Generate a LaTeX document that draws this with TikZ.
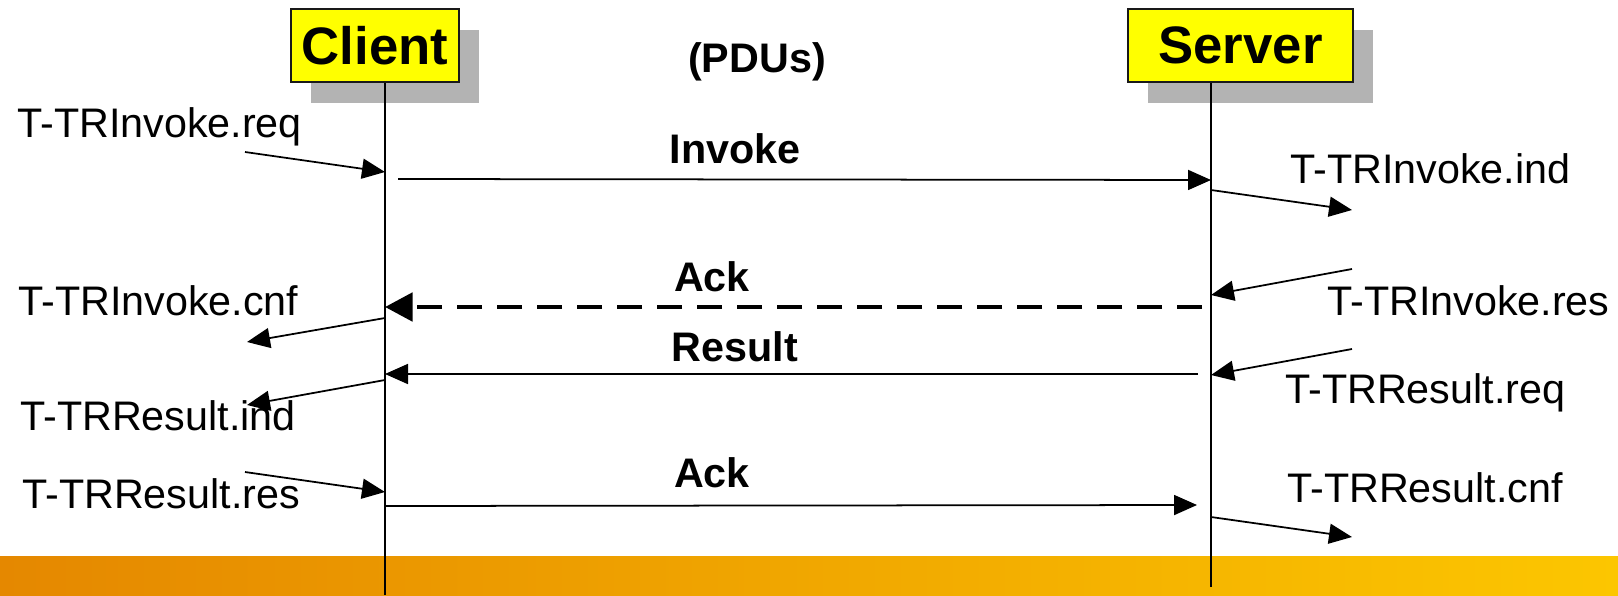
\documentclass[tikz,border=0pt]{standalone}
\usepackage{fontspec}
\setmainfont{Liberation Sans}
\usetikzlibrary{arrows.meta,shadows}

\providecommand*{\xClient}{}
\providecommand*{\xServer}{}
\providecommand*{\yBottom}{}
\renewcommand*{\xClient}{385}
\renewcommand*{\xServer}{1211}
\renewcommand*{\yBottom}{595}

\definecolor{boxyellow}{RGB}{255,255,0}
\definecolor{shadowgray}{RGB}{179,179,179}
\definecolor{bandleft}{RGB}{229,136,0}
\definecolor{bandright}{RGB}{252,198,0}

\tikzset{
  entity/.style={draw=black!90,line width=1pt,fill=boxyellow,inner sep=0pt,
    minimum height=1.46cm,font=\fontsize{30}{36}\selectfont\bfseries,
    drop shadow={shadow xshift=0.4cm,shadow yshift=-0.42cm,fill=shadowgray,opacity=1}},
  primitive/.style={inner sep=0pt,anchor=base west,font=\fontsize{23.5}{28}\selectfont},
  pdu/.style={inner sep=0pt,anchor=base,font=\fontsize{23.5}{28}\selectfont\bfseries},
  lifeline/.style={line width=1pt},
  msg/.style={line width=1pt,-{Triangle[length=0.46cm,width=0.4cm]}},
  ackmsg/.style={line width=2.8pt,dash pattern=on 0.5cm off 0.3cm,
    -{Triangle[length=0.55cm,width=0.56cm]}}
}

\begin{document}
\begin{tikzpicture}[x=0.02cm,y=-0.02cm]
  \useasboundingbox (0,0) rectangle (1618,\yBottom);
  \shade [left color=bandleft,right color=bandright] (0,556) rectangle (1618,\yBottom);

  \node (client) [entity,minimum width=3.36cm] at (375,45.5) {Client};
  \node (server) [entity,minimum width=4.5cm] at (1240.5,45.5) {Server};
  \coordinate (clientEnd) at (\xClient,\yBottom);
  \coordinate (serverEnd) at (\xServer,587);
  \draw [lifeline] (client.south -| clientEnd) -- (clientEnd);
  \draw [lifeline] (server.south -| serverEnd) -- (serverEnd);

  \node (pdus) [pdu] at (757,72) {(PDUs)};

  \coordinate (invokeA) at (398,179);
  \coordinate (invokeB) at (\xServer,180);
  \coordinate (ackA) at (1202,307);
  \coordinate (ackB) at (\xClient,307);
  \coordinate (resultA) at (1198,374);
  \coordinate (resultB) at (\xClient,374);
  \coordinate (ackResA) at (\xClient,506);
  \coordinate (ackResB) at (1197,505);

  \draw [msg] (invokeA) -- (invokeB);
  \draw [ackmsg] (ackA) -- (ackB);
  \draw [msg] (resultA) -- (resultB);
  \draw [msg] (ackResA) -- (ackResB);

  \node (invokeLbl) [pdu] at (735,163) {Invoke};
  \node (ackLbl) [pdu] at (712,291) {Ack};
  \node (resultLbl) [pdu] at (735,361) {Result};
  \node (ackResLbl) [pdu] at (712,487) {Ack};

  \foreach \n/\x/\y/\t in {reqInv/17/137/T-TRInvoke.req, indInv/1290/183/T-TRInvoke.ind,
      cnfInv/18/315/T-TRInvoke.cnf, resInv/1327/315/T-TRInvoke.res,
      reqRes/1285/403/T-TRResult.req, indRes/20/430/T-TRResult.ind,
      resRes/22/508/T-TRResult.res, cnfRes/1287/502/T-TRResult.cnf} {
    \node (\n) [primitive] at (\x,\y) {\t};
  }

  \foreach \n/\ax/\ay/\bx/\by in {reqInv/245/152/\xClient/172, indInv/\xServer/190/1352/210,
      resInv/1352/269/\xServer/295, cnfInv/\xClient/318/247/342,
      reqRes/1352/349/\xServer/375, indRes/\xClient/380/247/405,
      resRes/245/472/\xClient/492, cnfRes/\xServer/517/1352/537} {
    \coordinate (\n-a) at (\ax,\ay);
    \coordinate (\n-b) at (\bx,\by);
    \draw [msg] (\n-a) -- (\n-b);
  }
\end{tikzpicture}
\end{document}
